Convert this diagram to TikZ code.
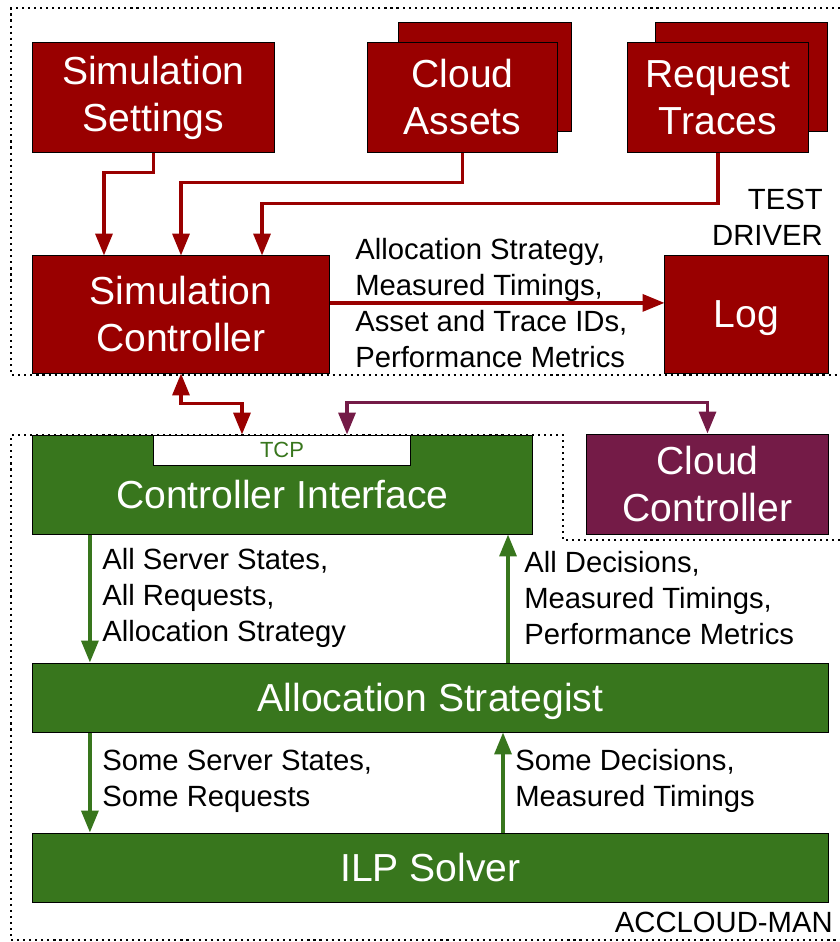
\documentclass[tikz,border=0pt]{standalone}
\usepackage{fontspec}
\setmainfont{Liberation Sans}
\usepackage{tikz}
\definecolor{drred}{HTML}{990000}
\definecolor{drgreen}{HTML}{38761D}
\definecolor{drpurple}{HTML}{741B47}
\newcommand{\largetxt}{\fontsize{27.8}{33.4}\selectfont}
\newcommand{\medtxt}{\fontsize{20.8}{25.6}\selectfont}
\usetikzlibrary{arrows.meta, positioning}

\begin{document}
\begin{tikzpicture}
[x=0.025cm, y=-0.025cm,
 box/.style={rectangle, draw=black, line width=0.7pt, text=white, font=\largetxt, align=center, inner sep=0pt},
 rbox/.style={box, fill=drred},
 gbox/.style={box, fill=drgreen},
 pbox/.style={box, fill=drpurple},
 lbl/.style={font=\medtxt, align=left, anchor=west, inner sep=0pt},
 area/.style={line width=1.5pt, dash pattern=on 1.5pt off 2.8pt},
 flow/.style={line width=2.4pt},
 >={Triangle[length=15.5pt, width=12pt]}]
\useasboundingbox (0,0) rectangle (840,942);
% dotted areas
\draw[area] (840,8) -- (11,8) -- (11,375) -- (840,375);
\draw[area] (840,540) -- (563,540) -- (563,435) -- (11,435) -- (11,940) -- (840,940);
\node[font=\medtxt, align=right, anchor=east, inner sep=0pt] (td) at (823,217) {TEST\\DRIVER};
\node[font=\medtxt, anchor=east, inner sep=0pt] (am) at (833,922) {ACCLOUD-MAN};

% test driver
\node[rbox, minimum width=6.025cm, minimum height=2.725cm] (set) at (153.5,97.5) {Simulation\\Settings};
\node[rbox, minimum width=4.3cm, minimum height=2.7cm] (assetsb) at (485,77) {};
\node[rbox, minimum width=4.725cm, minimum height=2.725cm] (assets) at (462.5,97.5) {Cloud\\Assets};
\node[rbox, minimum width=4.275cm, minimum height=2.7cm] (tracesb) at (741.5,77) {};
\node[rbox, minimum width=4.5cm, minimum height=2.725cm] (traces) at (718,97.5) {Request\\Traces};
\node[rbox, minimum width=7.4cm, minimum height=2.925cm] (ctrl) at (181,314.5) {Simulation\\Controller};
\node[rbox, minimum width=4.075cm, minimum height=2.925cm, text depth=0pt] (log) at (746.5,314.5) {Log};
\draw[->, flow, drred] (set.south) -- ++(0,20) -| ([xshift=-1.925cm]ctrl.north);
\draw[->, flow, drred] (assets.south) -- ++(0,30) -| (ctrl.north);
\draw[->, flow, drred] (traces.south) -- ++(0,51) -| ([xshift=2.025cm]ctrl.north);
\draw[->, flow, drred] ([yshift=0.29cm]ctrl.east) -- ([yshift=0.29cm]log.west);
\node[lbl] (msgs) at (355,303) {Allocation Strategy,\\Measured Timings,\\Asset and Trace IDs,\\Performance Metrics};

% accloud-man
\node[gbox, minimum width=12.475cm, minimum height=2.475cm] (ci) at (282.5,484.5) {};
\node[draw=black, fill=white, line width=0.7pt, text=drgreen, font=\fontsize{15.6}{18}\selectfont, minimum width=6.4cm, minimum height=0.75cm, inner sep=0pt] (tcp) at (282,450) {TCP};
\node[text=white, font=\largetxt, inner sep=0pt] (citext) at (282.5,495) {Controller Interface};
\node[pbox, minimum width=6.025cm, minimum height=2.5cm] (cc) at (707.5,484) {Cloud\\Controller};
\node[gbox, minimum width=19.875cm, minimum height=1.725cm, text depth=0pt] (as) at (430.5,697.5) {Allocation Strategist};
\node[gbox, minimum width=19.875cm, minimum height=1.725cm] (ilp) at (430.5,867.5) {ILP Solver};
\draw[<->, flow, drred] (ctrl.south) -- ++(0,30) -| ([xshift=-1cm]tcp.north);
\draw[<->, flow, drpurple] ([xshift=1.625cm]tcp.north) -- ++(0,-32) -| (cc.north);
\draw[->, flow, drgreen] ([xshift=-8.5125cm]as.north |- ci.south) -- ([xshift=-8.5125cm]as.north);
\draw[->, flow, drgreen] ([xshift=1.9375cm]as.north) -- ([xshift=1.9375cm]as.north |- ci.south);
\draw[->, flow, drgreen] ([xshift=-8.5125cm]as.south) -- ([xshift=-8.5125cm]as.south |- ilp.north);
\draw[->, flow, drgreen] ([xshift=1.8125cm]as.south |- ilp.north) -- ([xshift=1.8125cm]as.south);
\node[lbl] (down1) at (102,598) {All Server States,\\All Requests,\\Allocation Strategy};
\node[lbl] (up1) at (524,598) {All Decisions,\\Measured Timings,\\Performance Metrics};
\node[lbl] (down2) at (102,781) {Some Server States,\\Some Requests};
\node[lbl] (up2) at (515,781) {Some Decisions,\\Measured Timings};
\end{tikzpicture}
\end{document}
